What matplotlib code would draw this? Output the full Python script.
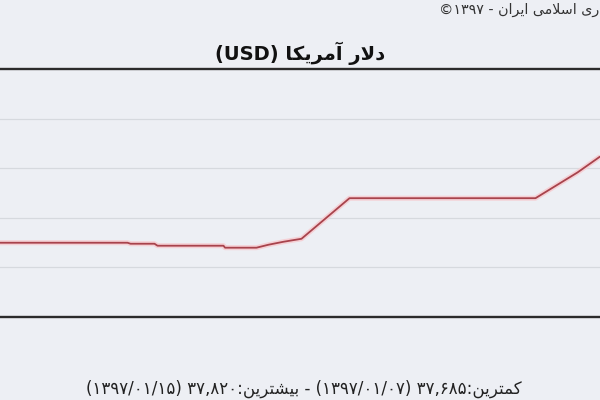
import matplotlib
matplotlib.use('Agg')
from matplotlib import pyplot as plt

# data (hours from the left edge of the visible window)
hours = [0, 42.5, 43.5, 51.5, 52.5, 74.5, 75, 85.5, 89.5, 94.5, 100.5,
         116.5, 178.5, 192.5, 200]
usd_rate = [37690, 37690, 37689, 37689, 37687, 37687, 37685, 37685, 37688,
            37691, 37694, 37735, 37735, 37761, 37777]

min_value, min_date = 37685, '1397/01/07'
max_value, max_date = 37820, '1397/01/15'

title_fa = 'دلار آمریکا'
min_label_fa = 'کمترین'
max_label_fa = 'بیشترین'
source_fa = 'ری اسلامی ایران'   # the visible end of the source line
source_year = '1397'

BG = '#edeff4'

# --- tiny persian shaper: matplotlib draws glyphs left to right without shaping
FORMS = {
    # letter: (isolated, final, initial, medial) ; None -> joins only to the right
    'ا': ('\uFE8D', '\uFE8E', None, None),
    'آ': ('\uFE81', '\uFE82', None, None),
    'د': ('\uFEA9', '\uFEAA', None, None),
    'ر': ('\uFEAD', '\uFEAE', None, None),
    'ز': ('\uFEAF', '\uFEB0', None, None),
    'و': ('\uFEED', '\uFEEE', None, None),
    'ب': ('\uFE8F', '\uFE90', '\uFE91', '\uFE92'),
    'ت': ('\uFE95', '\uFE96', '\uFE97', '\uFE98'),
    'ج': ('\uFE9D', '\uFE9E', '\uFE9F', '\uFEA0'),
    'س': ('\uFEB1', '\uFEB2', '\uFEB3', '\uFEB4'),
    'ش': ('\uFEB5', '\uFEB6', '\uFEB7', '\uFEB8'),
    'ل': ('\uFEDD', '\uFEDE', '\uFEDF', '\uFEE0'),
    'م': ('\uFEE1', '\uFEE2', '\uFEE3', '\uFEE4'),
    'ن': ('\uFEE5', '\uFEE6', '\uFEE7', '\uFEE8'),
    'ه': ('\uFEE9', '\uFEEA', '\uFEEB', '\uFEEC'),
    'ک': ('\uFB8E', '\uFB8F', '\uFB90', '\uFB91'),
    'ی': ('\uFBFC', '\uFBFD', '\uFBFE', '\uFBFF'),
}
LAM_ALEF = {'ا': ('\uFEFB', '\uFEFC'), 'آ': ('\uFEF5', '\uFEF6')}


def rtl(text):
    out = []
    i = 0
    while i < len(text):
        ch = text[i]
        if ch not in FORMS:
            out.append(ch)
            i += 1
            continue
        prev = text[i - 1] if i > 0 else ''
        joins_prev = prev in FORMS and FORMS[prev][2] is not None
        nxt = text[i + 1] if i + 1 < len(text) else ''
        if ch == 'ل' and nxt in LAM_ALEF:
            out.append(LAM_ALEF[nxt][1 if joins_prev else 0])
            i += 2
            continue
        joins_next = nxt in FORMS and FORMS[ch][2] is not None
        iso, fin, ini, med = FORMS[ch]
        if joins_prev and joins_next:
            out.append(med)
        elif joins_prev:
            out.append(fin)
        elif joins_next:
            out.append(ini)
        else:
            out.append(iso)
        i += 1
    return ''.join(out)[::-1]


def fa_num(s):
    return str(s).translate(str.maketrans('0123456789', '۰۱۲۳۴۵۶۷۸۹'))


plt.rcParams['font.family'] = ['DejaVu Sans']

fig = plt.figure(figsize=(6, 4), dpi=100, facecolor=BG)
ax = fig.add_axes([0, 0.2075, 1, 0.6188], facecolor=BG)

ax.plot(hours, usd_rate, color='#f5d0d5', lw=3.6, solid_capstyle='butt', zorder=2)
ax.plot(hours, usd_rate, color='#a8434c', lw=1.3, zorder=3)

ax.set_xlim(0, 200)
ax.set_ylim(37615, 37865)
ax.set_yticks([37665, 37715, 37765, 37815])
ax.set_xticks([])
ax.tick_params(axis='y', length=0, labelleft=False)
ax.grid(axis='y', color='#d6d9de', lw=0.9)
ax.set_axisbelow(True)

for side in ('left', 'right'):
    ax.spines[side].set_visible(False)
for side in ('top', 'bottom'):
    ax.spines[side].set_color('#2b2b2b')
    ax.spines[side].set_linewidth(1.7)

# title
fig.text(0.5, 1 - 53 / 400, '(USD) ' + rtl(title_fa), ha='center', va='center',
         fontsize=14, fontweight='bold', color='#111111')

# source line, right end at the picture edge
fig.text(599 / 600, 1 - 10 / 400,
         '©' + fa_num(source_year) + ' - ' + rtl(source_fa),
         ha='right', va='center', fontsize=10.3, color='#333333')

# min / max footer
footer = ('(' + fa_num(max_date) + ') ' + fa_num(f'{max_value:,}') + ':' + rtl(max_label_fa)
          + ' - (' + fa_num(min_date) + ') ' + fa_num(f'{min_value:,}') + ':' + rtl(min_label_fa))
fig.text(304 / 600, 1 - 389 / 400, footer, ha='center', va='center',
         fontsize=12, color='#222222')

fig.savefig('out.png', dpi=100, facecolor=BG)
